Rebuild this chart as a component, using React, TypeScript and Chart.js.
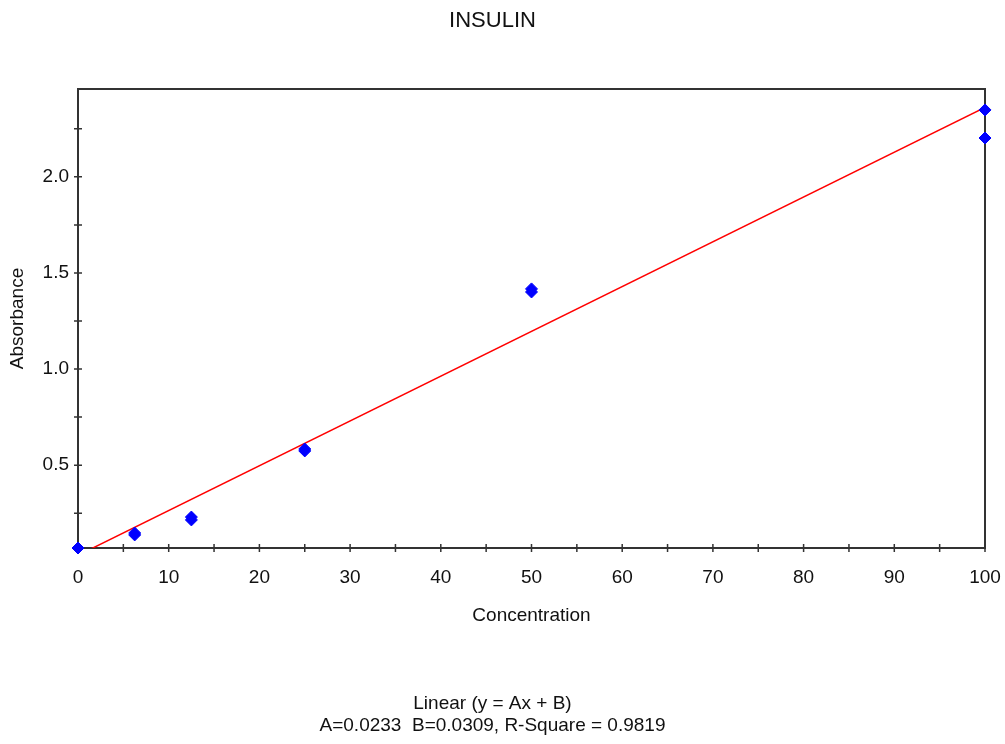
import React, { useEffect, useRef } from "react";
import { Chart, registerables } from "chart.js";

Chart.register(...registerables);

const chartTitle = "INSULIN";
const xAxisTitle = "Concentration";
const yAxisTitle = "Absorbance";
const fitText = ["Linear (y = Ax + B)", "A=0.0233  B=0.0309, R-Square = 0.9819"];

// measured standards (concentration, absorbance) — duplicates per level
const concentrations = [0, 0, 6.25, 6.25, 12.5, 12.5, 25, 25, 50, 50, 100, 100];
const absorbances = [0.069, 0.069, 0.147, 0.137, 0.23, 0.215, 0.584, 0.574, 1.417, 1.401, 2.348, 2.202];

// fitted line end points (y = 0.0233x + 0.0309)
const fitX = [0, 100];
const fitY = [0.0309, 2.3609];

const xMin = 0;
const xMax = 100;
const yMin = 0.069;
const yMax = 2.457;

const xTickValues = [0, 5, 10, 15, 20, 25, 30, 35, 40, 45, 50, 55, 60, 65, 70, 75, 80, 85, 90, 95, 100];
const xTickLabels = [0, 10, 20, 30, 40, 50, 60, 70, 80, 90, 100];
const yTickValues = [0.25, 0.5, 0.75, 1.0, 1.25, 1.5, 1.75, 2.0, 2.25];
const yTickLabels = [0.5, 1.0, 1.5, 2.0];

const FONT = "'Liberation Sans', Arial, sans-serif";
const TEXT = "#111";

const framePlugin = {
  id: "frame",
  beforeDatasetsDraw(chart: any) {
    const { ctx, chartArea, scales } = chart;
    const { left, right, top, bottom } = chartArea;
    ctx.save();
    ctx.strokeStyle = "#333";
    ctx.lineWidth = 2;
    ctx.strokeRect(left, top, right - left, bottom - top);
    ctx.lineWidth = 1.5;
    ctx.beginPath();
    scales.x.ticks.forEach((t: any) => {
      const px = scales.x.getPixelForValue(t.value);
      ctx.moveTo(px, bottom - 4);
      ctx.lineTo(px, bottom + 4);
    });
    scales.y.ticks.forEach((t: any) => {
      const py = scales.y.getPixelForValue(t.value);
      ctx.moveTo(left - 4, py);
      ctx.lineTo(left + 4, py);
    });
    ctx.stroke();
    ctx.restore();
  },
};

export default function App() {
  const ref = useRef<HTMLCanvasElement>(null);

  useEffect(() => {
    document.body.style.margin = "0";
    Chart.defaults.font.family = FONT;
    const canvas = ref.current!;
    const chart = new Chart(canvas, {
      type: "scatter",
      data: {
        datasets: [
          {
            label: "fit",
            data: fitX.map((x, i) => ({ x, y: fitY[i] })),
            showLine: true,
            borderColor: "#ff0000",
            borderWidth: 1.5,
            pointRadius: 0,
            order: 2,
          } as any,
          {
            label: "standards",
            data: concentrations.map((x, i) => ({ x, y: absorbances[i] })),
            pointStyle: "rectRot",
            pointRadius: 6,
            borderWidth: 1,
            borderColor: "#0000ff",
            backgroundColor: "#0000ff",
            clip: false,
            order: 1,
          } as any,
        ],
      },
      options: {
        animation: false,
        responsive: false,
        devicePixelRatio: 1,
        layout: { padding: { left: 0, right: 20, top: 0, bottom: 0 } },
        plugins: {
          legend: { display: false },
          tooltip: { enabled: false },
          title: {
            display: true,
            text: chartTitle,
            color: TEXT,
            font: { size: 22, weight: "normal", family: FONT },
            padding: { top: 7.6, bottom: 55 },
          },
          subtitle: {
            display: true,
            position: "bottom",
            text: fitText,
            color: TEXT,
            font: { size: 19, weight: "normal", family: FONT, lineHeight: 22 / 19 },
            padding: { top: 0, bottom: 7 },
          },
        },
        scales: {
          x: {
            type: "linear",
            min: xMin,
            max: xMax,
            grid: { display: false, drawTicks: false, tickLength: 0 },
            border: { display: false },
            afterBuildTicks: (scale: any) => {
              scale.ticks = xTickValues.map((v) => ({ value: v }));
            },
            afterFit: (scale: any) => {
              scale.height = 145;
              scale.paddingRight = 0;
              scale.paddingLeft = 0;
            },
            ticks: {
              autoSkip: false,
              maxRotation: 0,
              padding: 18.5,
              color: TEXT,
              font: { size: 19, family: FONT },
              callback: (v: any) => (xTickLabels.includes(Number(v)) ? String(v) : ""),
            },
            title: {
              display: true,
              text: xAxisTitle,
              color: TEXT,
              font: { size: 19, family: FONT },
              padding: { top: 0, bottom: 66 },
            },
          },
          y: {
            type: "linear",
            min: yMin,
            max: yMax,
            grid: { display: false, drawTicks: false, tickLength: 0 },
            border: { display: false },
            afterBuildTicks: (scale: any) => {
              scale.ticks = yTickValues.map((v) => ({ value: v }));
            },
            afterFit: (scale: any) => {
              scale.width = 78;
              scale.paddingTop = 0;
              scale.paddingBottom = 0;
            },
            ticks: {
              autoSkip: false,
              padding: 9,
              color: TEXT,
              font: { size: 19, family: FONT },
              callback: (v: any) => (yTickLabels.includes(Number(v)) ? Number(v).toFixed(1) : ""),
            },
            title: {
              display: true,
              text: yAxisTitle,
              color: TEXT,
              font: { size: 19, family: FONT },
              padding: { top: 6, bottom: 0 },
            },
          },
        },
      },
      plugins: [framePlugin],
    } as any);
    return () => chart.destroy();
  }, []);

  return (
    <div style={{ width: 1005, height: 744, background: "#fff" }}>
      <canvas ref={ref} width={1005} height={744} style={{ display: "block", width: 1005, height: 744 }} />
    </div>
  );
}
